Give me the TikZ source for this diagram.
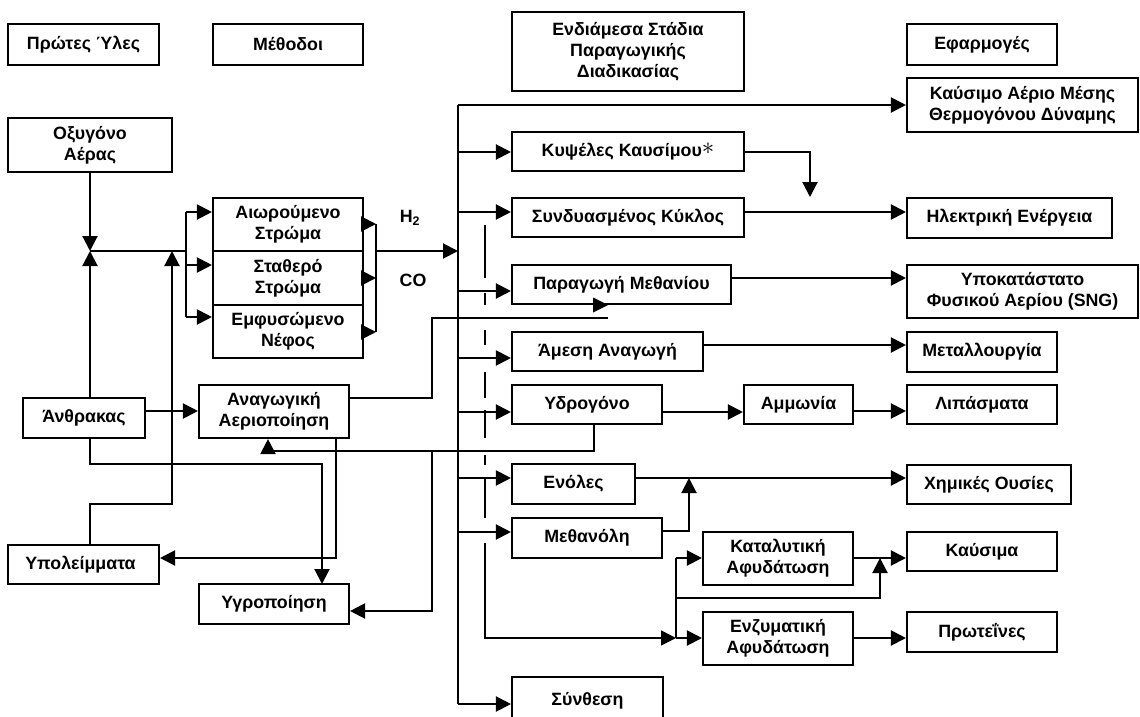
\documentclass[tikz,border=0pt]{standalone}
\usepackage{fontspec}
\setmainfont{Liberation Sans}
\usetikzlibrary{arrows.meta}
\begin{document}
\begin{tikzpicture}[x=1pt,y=-1pt,
 box/.style={draw,line width=2.1pt,inner sep=0pt,align=center,font=\fontsize{17.8}{21}\selectfont\bfseries},
 lbl/.style={inner sep=0pt,font=\fontsize{17.8}{21}\selectfont\bfseries},
 ln/.style={line width=2.1pt},
 thinln/.style={line width=1.5pt},
 arr/.style={line width=2.1pt,-{Triangle[length=15pt,width=15pt]}},
 arrthin/.style={line width=1.5pt,-{Triangle[length=15pt,width=15pt]}}]
\useasboundingbox (0,0) rectangle (1140,717);
\clip (0,0) rectangle (1140,717);
\fill[white] (0,0) rectangle (1140,717);
% headers
\node[box,minimum width=151pt,minimum height=41pt] (hA) at (83.5,44.5) {Πρώτες Ύλες};
\node[box,minimum width=150pt,minimum height=41pt] (hB) at (288,44.5) {Μέθοδοι};
\node[box,minimum width=232pt,minimum height=79pt] (hC) at (628,51.5) {Ενδιάμεσα Στάδια\\Παραγωγικής\\Διαδικασίας};
\node[box,minimum width=150pt,minimum height=41pt] (hD) at (982,44.5) {Εφαρμογές};
% left
\node[box,minimum width=164pt,minimum height=54pt] (oxy) at (90,145) {Οξυγόνο\\Αέρας};
\node[box,minimum width=150pt,minimum height=53pt] (fb) at (288,224.5) {Αιωρούμενο\\Στρώμα};
\node[box,minimum width=150pt,minimum height=54pt] (fix) at (288,278) {Σταθερό\\Στρώμα};
\node[box,minimum width=150pt,minimum height=53pt] (ent) at (288,331.5) {Εμφυσώμενο\\Νέφος};
\node[box,minimum width=122pt,minimum height=40pt] (coal) at (84,418) {Άνθρακας};
\node[box,minimum width=150pt,minimum height=53pt] (red) at (274,411.5) {Αναγωγική\\Αεριοποίηση};
\node[box,minimum width=151pt,minimum height=39pt] (res) at (83.5,564.5) {Υπολείμματα\hspace*{6pt}};
\node[box,minimum width=150pt,minimum height=40pt] (liq) at (274,604) {Υγροποίηση};
% middle
\node[box,minimum width=232pt,minimum height=39pt] (fc) at (628,151.5) {Κυψέλες Καυσίμου\raisebox{2pt}{\fontsize{24}{24}\selectfont\normalfont$\ast$}};
\node[box,minimum width=232pt,minimum height=39pt] (cc) at (628,217.5) {Συνδυασμένος Κύκλος};
\node[box,minimum width=219pt,minimum height=39pt] (meth) at (621.5,284.5) {Παραγωγή Μεθανίου};
\node[box,minimum width=191pt,minimum height=39pt] (dr) at (607.5,351.5) {Άμεση Αναγωγή};
\node[box,minimum width=150pt,minimum height=39pt] (hyd) at (587,404.5) {Υδρογόνο};
\node[box,minimum width=123pt,minimum height=40pt] (en) at (573.5,484) {Ενόλες};
\node[box,minimum width=150pt,minimum height=40pt] (mo) at (587,538) {Μεθανόλη};
\node[box,minimum width=151pt,minimum height=48pt] (syn) at (587.5,701) {Σύνθεση};
\node[box,minimum width=109pt,minimum height=39pt] (amm) at (798.5,404.5) {Αμμωνία};
\node[box,minimum width=150pt,minimum height=53pt] (cat) at (778,558.5) {Καταλυτική\\Αφυδάτωση};
\node[box,minimum width=150pt,minimum height=53pt] (enz) at (778,638.5) {Ενζυματική\\Αφυδάτωση};
% right
\node[box,minimum width=231pt,minimum height=54pt] (fuelgas) at (1022.5,105) {Καύσιμο Αέριο Μέσης\\Θερμογόνου Δύναμης};
\node[box,minimum width=205pt,minimum height=40pt] (elec) at (1009.5,218) {Ηλεκτρική Ενέργεια};
\node[box,minimum width=231pt,minimum height=53pt] (sng) at (1022.5,291.5) {Υποκατάστατο\\Φυσικού Αερίου (SNG)};
\node[box,minimum width=150pt,minimum height=40pt] (metal) at (982,352) {Μεταλλουργία};
\node[box,minimum width=150pt,minimum height=39pt] (fert) at (982,404.5) {Λιπάσματα};
\node[box,minimum width=164pt,minimum height=39pt] (chem) at (989,484.5) {Χημικές Ουσίες};
\node[box,minimum width=150pt,minimum height=39pt] (fuels) at (982,551.5) {Καύσιμα};
\node[box,minimum width=150pt,minimum height=40pt] (prot) at (982,632) {Πρωτεΐνες};
% labels
\node[lbl] (lH) at (410,218) {H\textsubscript{2}};
\node[lbl] (lCO) at (413,280) {CO};
% left junction
\coordinate (jA) at (90,251);
\draw[arr] (oxy.south) -- (jA);
\draw[arr] (jA |- coal.north) -- (jA);
\coordinate (spl) at (186,251);
\draw[thinln] (jA) -- (spl);
\coordinate (s1) at (186,212);
\coordinate (s2) at (186,265);
\coordinate (s3) at (186,317);
\draw[ln] (s1) -- (s3);
\draw[arr] (s1) -- (s1 -| fb.west);
\draw[arr] (s2) -- (s2 -| fix.west);
\draw[arr] (s3) -- (s3 -| ent.west);
% collector
\coordinate (c1) at (376,224);
\coordinate (c2) at (376,278);
\coordinate (c3) at (376,332);
\coordinate (cm) at (376,251);
\draw[arr] (c1 -| fb.east) -- (c1);
\draw[arr] (c2 -| fix.east) -- (c2);
\draw[arr] (c3 -| ent.east) -- (c3);
\draw[ln] (c1) -- (c3);
% bus
\coordinate (bTop) at (458,105);
\coordinate (bBot) at (458,704);
\draw[arr] (cm) -- (cm -| bTop);
\draw[ln] (bTop) -- (bBot);
\draw[arr] (bTop) -- (bTop -| fuelgas.west);
\coordinate (bFc) at (458,152);
\coordinate (bCc) at (458,212);
\coordinate (bMe) at (458,291);
\coordinate (bDr) at (458,358);
\coordinate (bHy) at (458,412);
\coordinate (bEn) at (458,478);
\coordinate (bMo) at (458,532);
\draw[arr] (bFc) -- (bFc -| fc.west);
\draw[arr] (bCc) -- (bCc -| cc.west);
\draw[arr] (bMe) -- (bMe -| meth.west);
\draw[arr] (bDr) -- (bDr -| dr.west);
\draw[arr] (bHy) -- (bHy -| hyd.west);
\draw[arr] (bEn) -- (bEn -| en.west);
\draw[arr] (bMo) -- (bMo -| mo.west);
\draw[arr] (bBot) -- (bBot -| syn.west);
% right side outputs
\coordinate (fcE) at (744,152);
\draw[arr] (fcE) -| (810,197);
\coordinate (ccE) at (744,212);
\draw[arr] (ccE) -- (ccE -| elec.west);
\coordinate (meE) at (731,278);
\draw[arr] (meE) -- (meE -| sng.west);
\coordinate (drE) at (703,345);
\draw[arr] (drE) -- (drE -| metal.west);
\draw[arr] (hyd.east |- bHy) -- (bHy -| amm.west);
\coordinate (amE) at (853,411);
\draw[arr] (amE) -- (amE -| fert.west);
\coordinate (enE) at (635,478);
\draw[arr] (enE) -- (enE -| chem.west);
\coordinate (moE) at (662,531);
\draw[arr] (moE) -| (689,478);
% dashed line and dehydration branch
\draw[thinln,dash pattern=on 53pt off 15pt on 12pt off 25pt on 15pt off 27pt on 26pt off 12pt on 28pt off 17pt on 10pt off 12pt on 41pt off 20pt] (485,225) -- (485,518);
\coordinate (jE) at (676,638);
\coordinate (jC) at (676,558);
\coordinate (jM) at (676,598);
\draw[arrthin] (485,543) |- (jE);
\draw[ln] (jC) -- (jE);
\draw[arr] (jC) -- (jC -| cat.west);
\draw[arr] (jE) -- (jE -| enz.west);
\draw[arr] (jM) -| (880,558);
\coordinate (caE) at (853,558);
\draw[arr] (caE) -- (caE -| fuels.west);
\draw[arr] (enz.east |- jE) -- (jE -| prot.west);
% reducing gasification connections
\coordinate (rE) at (349,398);
\draw[thinln] (rE) -| (432,318) -- (608,318);
\fill (593,297.5) -- (608,305) -- (593,312.5) -- cycle;
\coordinate (cE) at (145,411);
\draw[arr] (cE) -- (cE -| red.west);
% hydrogen return line
\coordinate (hB) at (594,424);
\coordinate (hL) at (594,451);
\coordinate (rA) at (268,451);
\draw[thinln] (hB) -- (hL) -- (rA);
\draw[arr] (rA) -- (rA |- red.south);
\coordinate (lq) at (432,451);
\coordinate (lqy) at (432,611);
\draw[arr] (lq) -- (lqy) -- (lqy -| liq.east);
% coal to liquefaction
\coordinate (cB) at (90,438);
\draw[arr] (cB) -- (90,464) -| (322,584);
% residues
\coordinate (rS) at (336,438);
\coordinate (rR) at (336,558);
\draw[arr] (rS) -- (rR) -- (rR -| res.east);
\coordinate (rN) at (90,545);
\draw[arr] (rN) |- (172,504) -- (172,251);
\end{tikzpicture}
\end{document}
